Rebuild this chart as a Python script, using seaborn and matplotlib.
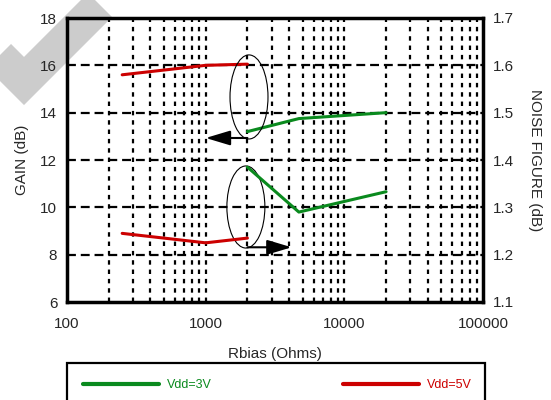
import numpy as np
import pandas as pd
import seaborn as sns
import matplotlib.pyplot as plt
from matplotlib.patches import Ellipse, Rectangle
from matplotlib.lines import Line2D

# Rbias (Ohms) and readings per supply
rbias_5v = [250, 1000, 2000]
gain_5v = [15.6, 16.0, 16.05]
nf_5v = [1.245, 1.225, 1.235]

rbias_3v = [2000, 4700, 20000]
gain_3v = [13.2, 13.75, 14.0]
nf_3v = [1.385, 1.29, 1.333]

series_names = ["Vdd=3V", "Vdd=5V"]
series_colors = ["#0a8a1e", "#cc0000"]
gain_ticks = [6, 8, 10, 12, 14, 16, 18]
nf_ticks = [1.1, 1.2, 1.3, 1.4, 1.5, 1.6, 1.7]
x_ticks = [100, 1000, 10000, 100000]

gain_df = pd.DataFrame({
    "rbias": rbias_3v + rbias_5v,
    "value": gain_3v + gain_5v,
    "vdd": [series_names[0]] * 3 + [series_names[1]] * 3,
})
nf_df = pd.DataFrame({
    "rbias": rbias_3v + rbias_5v,
    "value": nf_3v + nf_5v,
    "vdd": [series_names[0]] * 3 + [series_names[1]] * 3,
})
palette = dict(zip(series_names, series_colors))

sns.set_style("white")
plt.rcParams["font.family"] = ["Liberation Sans", "DejaVu Sans"]

fig = plt.figure(figsize=(5.51, 4.0), dpi=100)
W, H = 551, 400
ax = fig.add_axes([67 / W, 1 - 302 / H, 416 / W, 284 / H])
ax2 = ax.twinx()
ax.patch.set_alpha(0)

# grey check-mark watermark in the corner
mark = Line2D([-30 / W, 24 / W, 100 / W], [1 - 27 / H, 1 - 81 / H, 1 - 5 / H],
              transform=fig.transFigure, color="#cccccc", lw=24.5,
              solid_joinstyle="miter", solid_capstyle="butt", zorder=-5)
fig.add_artist(mark)

sns.lineplot(data=gain_df, x="rbias", y="value", hue="vdd", palette=palette,
             ax=ax, lw=2.2, legend=False, zorder=3)
sns.lineplot(data=nf_df, x="rbias", y="value", hue="vdd", palette=palette,
             ax=ax2, lw=2.2, legend=False, zorder=3)

ax.set_xscale("log")
ax.set_xlim(100, 100000)
ax.set_ylim(6, 18)
ax2.set_ylim(1.1, 1.7)
ax.set_xticks(x_ticks)
ax.set_xticklabels([str(t) for t in x_ticks])
ax.set_yticks(gain_ticks)
ax.set_yticklabels([str(t) for t in gain_ticks])
ax2.set_yticks(nf_ticks)
ax2.set_yticklabels([f"{t:.1f}" for t in nf_ticks])
ax.xaxis.set_minor_formatter(plt.NullFormatter())

ax.set_xlabel("Rbias (Ohms)", fontsize=11, labelpad=11)
ax.set_ylabel("GAIN (dB)", fontsize=11, labelpad=8)
ax2.set_ylabel("NOISE FIGURE (dB)", fontsize=11, rotation=270, labelpad=20)

for a in (ax, ax2):
    a.tick_params(axis="both", which="both", length=0, labelsize=11)
    a.tick_params(axis="y", pad=7)
ax.tick_params(axis="x", pad=11)
for s in ax2.spines.values():
    s.set_linewidth(2.5)
    s.set_color("black")
ax.grid(False)

# vertical grid (majors and minors) and horizontal grid
for xv in np.concatenate([[d * 10 ** e for d in range(1, 10)] for e in range(2, 5)]):
    if 100 < xv < 100000:
        ax.axvline(xv, color="black", lw=1.6, ls=(0, (2, 2.2)), zorder=1)
for yv in gain_ticks[1:-1]:
    ax.axhline(yv, color="black", lw=1.6, ls=(0, (4, 2.2)), zorder=1)

# ellipses and arrows marking which axis each group belongs to
ax.add_patch(Ellipse((0.4375, 0.722), 0.0913, 0.296, transform=ax.transAxes,
                     fill=False, ec="black", lw=0.8, zorder=4))
ax.add_patch(Ellipse((0.430, 0.3345), 0.0913, 0.289, transform=ax.transAxes,
                     fill=False, ec="black", lw=0.8, zorder=4))
arrow_style = dict(arrowstyle="-|>,head_length=1.5,head_width=0.45", color="black", lw=1.5,
                   shrinkA=0, shrinkB=0)
ax.annotate("", xy=(1000, 12.93), xytext=(2000, 12.93), arrowprops=arrow_style, zorder=5)
ax2.annotate("", xy=(4170, 1.2156), xytext=(2000, 1.2156), arrowprops=arrow_style, zorder=5)

# legend box running off the bottom edge
fig.add_artist(Rectangle((67 / W, -0.05), 418 / W, 0.05 + 1 - 363 / H, transform=fig.transFigure,
                         fill=False, ec="black", lw=1.6))
handles = [Line2D([], [], color=c, lw=3) for c in series_colors]
fig.legend(handles, series_names, loc="center left", ncol=2,
           bbox_to_anchor=(83 / W, 1 - 385 / H), fontsize=9,
           labelcolor=series_colors, handlelength=6.08, columnspacing=10.5,
           handletextpad=0.64, borderpad=0, borderaxespad=0, frameon=False)

fig.savefig("out.png", dpi=100)
